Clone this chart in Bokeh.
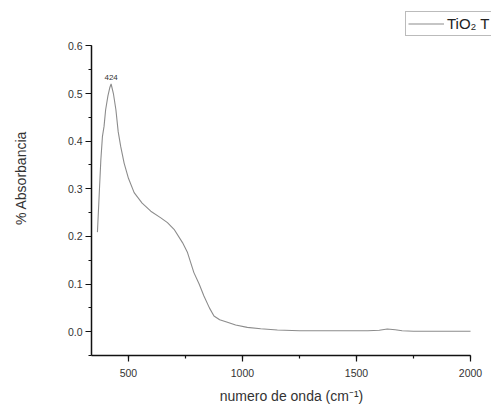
from bokeh.plotting import figure
from bokeh.models import (Range1d, SingleIntervalTicker, PrintfTickFormatter,
                          Legend, LegendItem, ColumnDataSource)
from bokeh.core.properties import value
from bokeh.embed import file_html
from bokeh.resources import INLINE

# ---- data ----
wavenumber = [364, 372, 379, 386, 393, 400, 410, 418, 424, 434, 445, 455, 466,
              481, 500, 525, 560, 598, 642, 671, 700, 737, 759, 787, 810, 831,
              855, 875, 900, 934, 970, 1021, 1080, 1153, 1250, 1350, 1450,
              1550, 1600, 1635, 1670, 1700, 1750, 1850, 1950, 2000]
absorbance = [0.209, 0.29, 0.361, 0.41, 0.431, 0.466, 0.495, 0.512, 0.52,
              0.50, 0.466, 0.42, 0.389, 0.354, 0.322, 0.292, 0.27, 0.253,
              0.239, 0.229, 0.215, 0.187, 0.166, 0.124, 0.10, 0.075, 0.05,
              0.033, 0.025, 0.020, 0.014, 0.009, 0.006, 0.0035, 0.002, 0.002,
              0.002, 0.002, 0.003, 0.0056, 0.004, 0.002, 0.001, 0.001, 0.001,
              0.001]
peak_x = [424]
peak_y = [0.52]
peak_label = ["424"]
series_name = "TiO\u2082 T"
x_title = "numero de onda (cm\u207b\u00b9)"
y_title = "% Absorbancia"

FONT = "Liberation Sans"

# axes drawn only over the data span; frame extended so the legend fits inside
p = figure(width=491, height=406, output_backend="svg", toolbar_location=None,
           x_range=Range1d(338, 2092), y_range=Range1d(-0.05, 0.6953),
           min_border_left=91, min_border_right=0, min_border_top=0,
           min_border_bottom=50)
p.outline_line_color = None
p.xgrid.visible = False
p.ygrid.visible = False
p.background_fill_color = "white"

r = p.line(wavenumber, absorbance, line_color="#8c8c8c", line_width=1.1)

src = ColumnDataSource(dict(x=peak_x, y=peak_y, t=peak_label))
p.text(x="x", y="y", text="t", source=src, text_font=value(FONT),
       text_font_size="8px", text_align="center", text_baseline="alphabetic",
       y_offset=-6, text_color="#333333")

for ax in (p.xaxis[0], p.yaxis[0]):
    ax.axis_line_color = "#111111"
    ax.axis_line_width = 1.5
    ax.major_tick_line_color = "#111111"
    ax.minor_tick_line_color = "#111111"
    ax.major_tick_line_width = 1.2
    ax.minor_tick_line_width = 1.2
    ax.major_tick_in = 0
    ax.major_tick_out = 6
    ax.minor_tick_in = 0
    ax.minor_tick_out = 3
    ax.major_label_text_font = FONT
    ax.major_label_text_font_size = "10.5px"
    ax.major_label_text_color = "#333333"
    ax.axis_label_text_font = FONT
    ax.axis_label_text_font_size = "14px"
    ax.axis_label_text_font_style = "normal"
    ax.axis_label_text_color = "#333333"

p.xaxis[0].ticker = SingleIntervalTicker(interval=500, num_minor_ticks=2)
p.yaxis[0].ticker = SingleIntervalTicker(interval=0.1, num_minor_ticks=2)
p.xaxis[0].bounds = (338, 2000)
p.yaxis[0].bounds = (-0.05, 0.6001)
p.yaxis[0].formatter = PrintfTickFormatter(format="%.1f")
p.xaxis[0].axis_label = x_title
p.yaxis[0].axis_label = y_title
p.xaxis[0].major_label_standoff = 7
p.xaxis[0].axis_label_standoff = 8
p.yaxis[0].major_label_standoff = 3
p.yaxis[0].axis_label_standoff = 36

legend = Legend(items=[LegendItem(label=series_name, renderers=[r])],
                location=(314, 319), margin=0, padding=2, spacing=0,
                glyph_width=36, glyph_height=19, label_height=19,
                label_width=60, label_standoff=3,
                label_text_font=FONT, label_text_font_size="15px",
                label_text_color="#222222",
                border_line_color="#777777", border_line_width=1,
                background_fill_alpha=1.0)
p.add_layout(legend)

open("out.html", "w").write(file_html(p, INLINE))
